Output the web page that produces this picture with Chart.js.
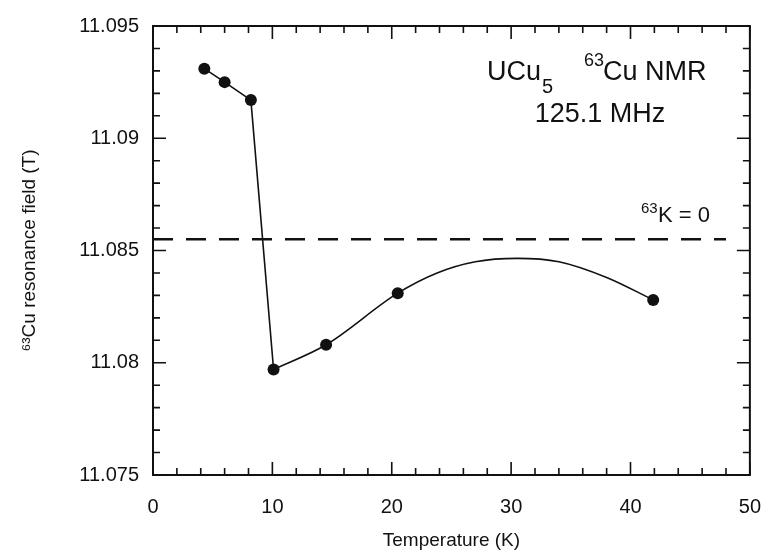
<!DOCTYPE html>
<html>
<head>
<meta charset="utf-8">
<script src="https://cdn.jsdelivr.net/npm/chart.js@4"></script>
<style>
  html, body { margin: 0; padding: 0; background: #fff; }
  #wrap { width: 781px; height: 556px; }
</style>
</head>
<body>
<div id="wrap"><canvas id="nmrChart" width="781" height="556"></canvas></div>
<script>
const temps = [4.3, 6.0, 8.2, 10.1, 14.5, 20.5, 41.9];
const fields = [11.0931, 11.0925, 11.0917, 11.0797, 11.0808, 11.0831, 11.0828];

// Straight connecting line below the transition
const lowTemps = [4.3, 6.0, 8.2, 10.1];
const lowFields = [11.0931, 11.0925, 11.0917, 11.0797];

// Smooth guide-to-the-eye curve above the transition
const highTemps = [10.1, 14.5, 20.5, 23.8, 27.0, 30.5, 34.0, 38.0, 41.9];
const highFields = [11.0797, 11.0808, 11.0831, 11.0840, 11.0845, 11.08465, 11.0845, 11.0838, 11.0828];

// 63K = 0 reference line
const zeroTemps = [0, 48];
const zeroField = 11.0855;

// Axis ticks
const xTicks = [0, 10, 20, 30, 40, 50];
const yTicks = [11.075, 11.08, 11.085, 11.09, 11.095];

const FONT = "'Liberation Sans', Arial, sans-serif";
const INK = "#111";

// inward ticks on all four sides + text labels
const framePlugin = {
  id: "frame",
  afterDraw(chart) {
    const ctx = chart.ctx;
    const a = chart.chartArea;
    const xs = chart.scales.x;
    const ys = chart.scales.y;
    ctx.save();
    ctx.strokeStyle = INK;
    ctx.lineWidth = 2;
    ctx.strokeRect(a.left, a.top, a.right - a.left, a.bottom - a.top);

    ctx.lineWidth = 1.6;
    ctx.beginPath();
    for (let t = xs.min; t <= xs.max + 1e-9; t += 2) {
      const px = xs.getPixelForValue(t);
      const len = Math.abs(t % 10) < 1e-6 ? 13 : 7;
      ctx.moveTo(px, a.bottom); ctx.lineTo(px, a.bottom - len);
      ctx.moveTo(px, a.top); ctx.lineTo(px, a.top + len);
    }
    for (let i = 0; i <= 20; i++) {
      const v = ys.min + i * 0.001;
      const py = ys.getPixelForValue(v);
      const len = i % 5 === 0 ? 13 : 7;
      ctx.moveTo(a.left, py); ctx.lineTo(a.left + len, py);
      ctx.moveTo(a.right, py); ctx.lineTo(a.right - len, py);
    }
    ctx.stroke();

    // annotations
    ctx.fillStyle = INK;
    ctx.textBaseline = "alphabetic";
    ctx.textAlign = "left";
    ctx.font = "27px " + FONT;
    ctx.fillText("UCu", 487, 80);
    ctx.font = "20px " + FONT;
    ctx.fillText("5", 542, 93);
    ctx.font = "18px " + FONT;
    ctx.fillText("63", 584, 66);
    ctx.font = "27px " + FONT;
    ctx.fillText("Cu NMR", 603, 80);
    ctx.textAlign = "center";
    ctx.fillText("125.1 MHz", 600, 122);
    ctx.textAlign = "left";
    ctx.font = "15px " + FONT;
    ctx.fillText("63", 641, 213);
    ctx.font = "22px " + FONT;
    ctx.fillText("K = 0", 658, 222);
    ctx.restore();
  }
};

new Chart(document.getElementById("nmrChart"), {
  type: "scatter",
  data: {
    datasets: [
      {
        label: "63K = 0",
        data: zeroTemps.map((t) => ({ x: t, y: zeroField })),
        showLine: true,
        borderColor: INK,
        borderWidth: 2.4,
        borderDash: [20, 13],
        pointRadius: 0,
      },
      {
        label: "low",
        data: lowTemps.map((t, i) => ({ x: t, y: lowFields[i] })),
        showLine: true,
        borderColor: INK,
        borderWidth: 1.6,
        tension: 0,
        pointRadius: 0,
      },
      {
        label: "high",
        data: highTemps.map((t, i) => ({ x: t, y: highFields[i] })),
        showLine: true,
        borderColor: INK,
        borderWidth: 1.6,
        cubicInterpolationMode: "monotone",
        pointRadius: 0,
      },
      {
        label: "data",
        data: temps.map((t, i) => ({ x: t, y: fields[i] })),
        pointRadius: 6,
        pointBackgroundColor: INK,
        pointBorderColor: INK,
        borderWidth: 0,
      },
    ],
  },
  options: {
    responsive: false,
    animation: false,
    layout: { padding: { top: 18, right: 24, left: 0, bottom: 0 } },
    plugins: { legend: { display: false }, tooltip: { enabled: false } },
    scales: {
      x: {
        type: "linear",
        min: 0,
        max: 50,
        afterBuildTicks: (s) => { s.ticks = xTicks.map((v) => ({ value: v })); },
        afterFit: (s) => { s.height = 81; },
        grid: { display: false, drawTicks: false },
        border: { display: false },
        ticks: { color: INK, font: { family: FONT, size: 20 }, padding: 20 },
        title: {
          display: true,
          text: "Temperature (K)",
          color: INK,
          font: { family: FONT, size: 19 },
          padding: { top: 0, bottom: 4 },
        },
      },
      y: {
        type: "linear",
        min: 11.075,
        max: 11.095,
        afterBuildTicks: (s) => { s.ticks = yTicks.map((v) => ({ value: v })); },
        afterFit: (s) => { s.width = 153; },
        grid: { display: false, drawTicks: false },
        border: { display: false },
        ticks: {
          color: INK,
          font: { family: FONT, size: 20 },
          padding: 14,
          callback: (v) => String(parseFloat(Number(v).toFixed(3))),
        },
        title: {
          display: true,
          text: "⁶³Cu resonance field (T)",
          color: INK,
          font: { family: FONT, size: 19 },
          padding: { top: 18, bottom: 0 },
        },
      },
    },
  },
  plugins: [framePlugin],
});
</script>
</body>
</html>
